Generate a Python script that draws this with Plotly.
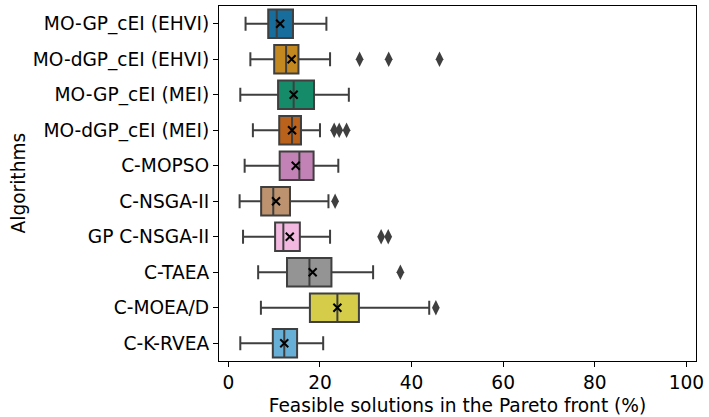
import colorsys
import plotly.graph_objects as go

algorithms = ["MO-GP_cEI (EHVI)", "MO-dGP_cEI (EHVI)", "MO-GP_cEI (MEI)", "MO-dGP_cEI (MEI)",
              "C-MOPSO", "C-NSGA-II", "GP C-NSGA-II", "C-TAEA", "C-MOEA/D", "C-K-RVEA"]
lower_whisker = [3.75, 4.8, 2.6, 5.35, 3.55, 2.45, 3.2, 6.5, 7.1, 2.6]
q1 = [8.7, 10.0, 10.85, 11.1, 11.2, 7.15, 10.2, 12.8, 17.8, 9.7]
median = [10.55, 12.6, 14.25, 13.9, 15.5, 9.8, 12.0, 17.7, 23.8, 12.2]
q3 = [14.1, 15.3, 18.7, 15.85, 18.6, 13.45, 15.6, 22.5, 28.5, 15.0]
upper_whisker = [21.4, 22.2, 26.3, 20.0, 24.0, 21.85, 22.2, 31.6, 43.85, 20.7]
mean = [11.3, 13.8, 14.25, 13.9, 14.7, 10.4, 13.4, 18.4, 23.8, 12.2]
outliers = [[], [28.65, 35.0, 46.1], [], [23.1, 24.2, 25.8], [], [23.3], [33.35, 34.9],
            [37.55], [45.3], []]
x_ticks = [0, 20, 40, 60, 80, 100]

palette = ["#0173b2", "#de8f05", "#029e73", "#d55e00", "#cc78bc",
           "#ca9161", "#fbafe4", "#949494", "#ece133", "#56b4e9"]


def desat(hexc, prop=0.75):
    r, g, b = (int(hexc[i:i + 2], 16) / 255 for i in (1, 3, 5))
    h, l, s = colorsys.rgb_to_hls(r, g, b)
    r, g, b = colorsys.hls_to_rgb(h, l, s * prop)
    return "#%02x%02x%02x" % (round(r * 255), round(g * 255), round(b * 255))


FONT = "DejaVu Sans"
FS = 18.6
edge = "#3f3f3f"

fig = go.Figure()
for i, name in enumerate(algorithms):
    fig.add_trace(go.Box(
        y=[name], q1=[q1[i]], median=[median[i]], q3=[q3[i]],
        lowerfence=[lower_whisker[i]], upperfence=[upper_whisker[i]],
        orientation="h", boxpoints=False, width=0.8, whiskerwidth=0.5,
        fillcolor=desat(palette[i]), line=dict(color=edge, width=2),
        showlegend=False, hoverinfo="skip",
    ))
    if outliers[i]:
        fig.add_trace(go.Scatter(
            x=outliers[i], y=[name] * len(outliers[i]), mode="markers",
            marker=dict(symbol="diamond-tall", size=11, color=edge, line=dict(width=0)),
            showlegend=False, hoverinfo="skip",
        ))

fig.add_trace(go.Scatter(
    x=mean, y=algorithms, mode="markers",
    marker=dict(symbol="x-thin", size=8, color="black", line=dict(color="black", width=2)),
    showlegend=False, hoverinfo="skip",
))

fig.add_annotation(
    text="Algorithms", textangle=-90, xref="paper", yref="paper",
    x=0, y=0.5, xanchor="center", yanchor="middle", xshift=-201,
    showarrow=False, font=dict(family=FONT, size=FS, color="black"),
)

fig.update_layout(
    width=709, height=417,
    margin=dict(l=219, r=10, t=5, b=54),
    paper_bgcolor="white", plot_bgcolor="white",
    font=dict(family=FONT, size=FS, color="black"),
    boxmode="overlay",
    xaxis=dict(
        range=[-2.05, 102.1], tickvals=x_ticks, ticks="outside", ticklen=5,
        tickcolor="black", showgrid=False, zeroline=False,
        showline=True, linecolor="black", linewidth=1.2, mirror=True,
        title=dict(text="Feasible solutions in the Pareto front (%)", standoff=6,
                   font=dict(size=FS)),
        tickfont=dict(size=FS),
    ),
    yaxis=dict(
        type="category", categoryorder="array", categoryarray=algorithms,
        range=[9.5, -0.5], ticks="outside", ticklen=5, tickcolor="black",
        showgrid=False, zeroline=False,
        showline=True, linecolor="black", linewidth=1.2, mirror=True,
        tickfont=dict(size=FS),
    ),
)

fig.write_html("out.html", config={"displayModeBar": False},
               post_script="document.body.style.margin='0';document.body.style.overflow='hidden';")
